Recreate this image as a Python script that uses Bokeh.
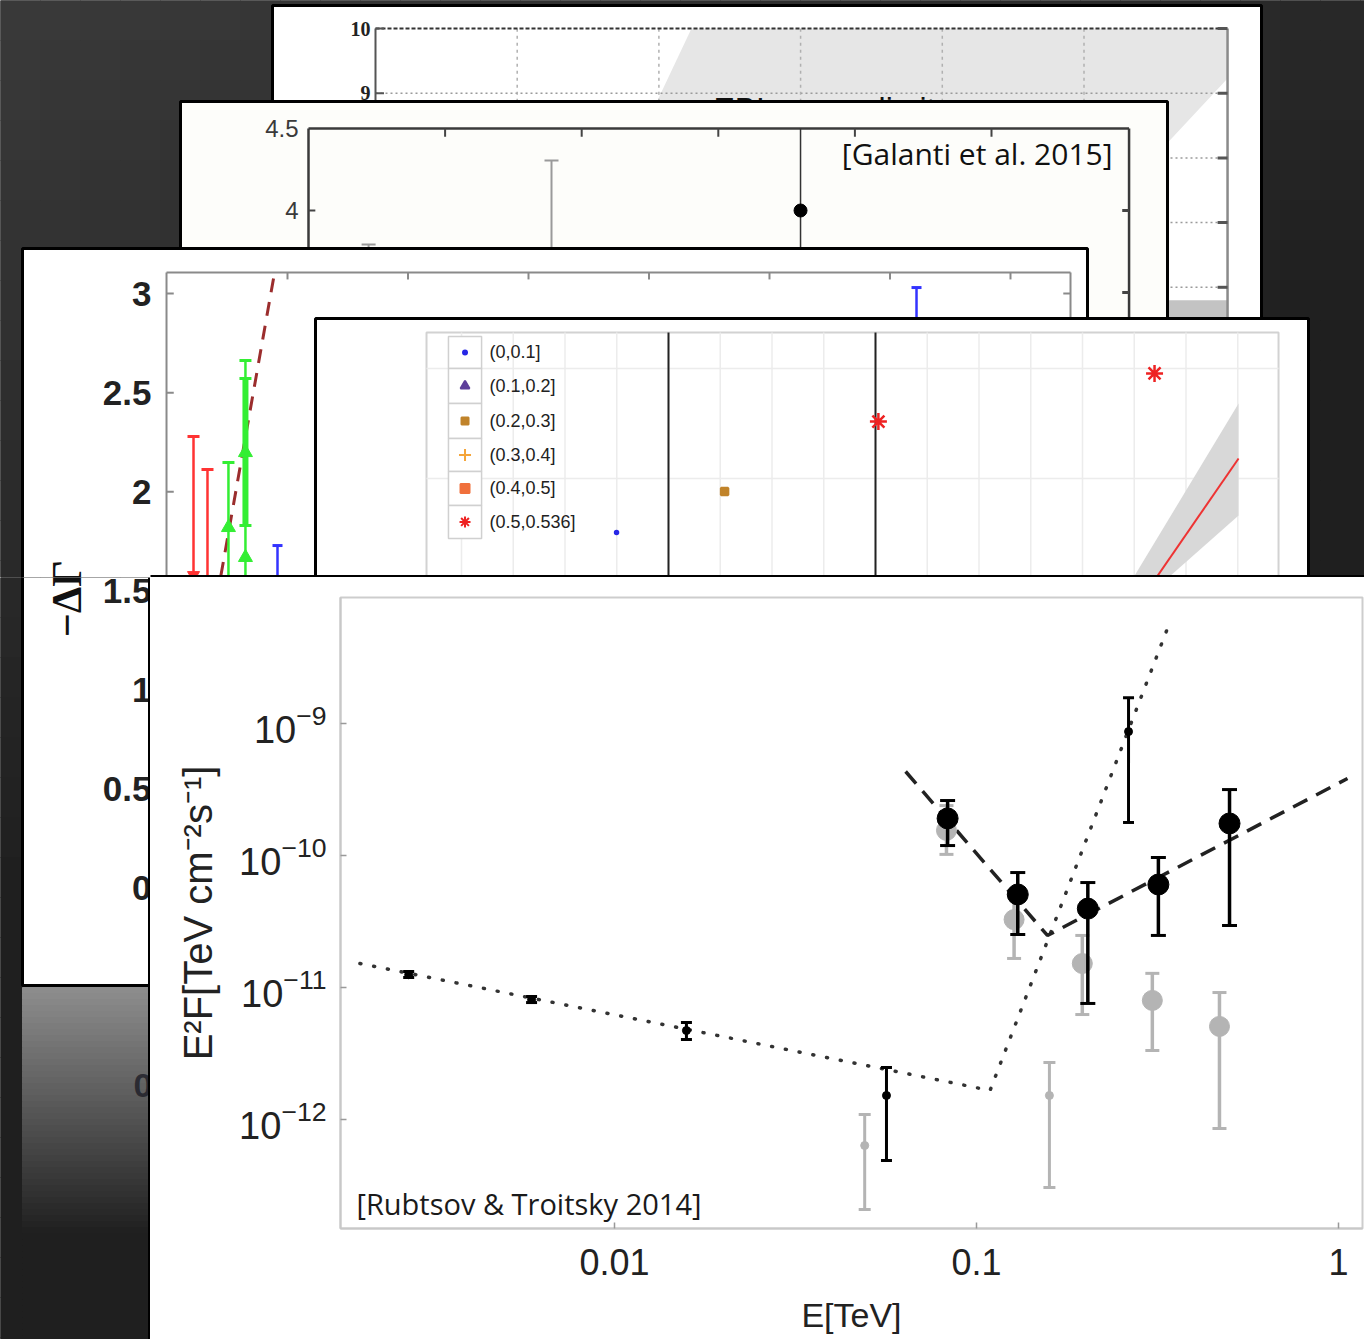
import numpy as np
from bokeh.plotting import figure
from bokeh.models import Range1d, FixedTicker, CustomJSTickFormatter, Plot
from bokeh.layouts import column, row
from bokeh.embed import file_html
from bokeh.resources import INLINE
from bokeh.core.properties import value

# ===================== FRONT CHART DATA  [Rubtsov & Troitsky 2014] =====================
x_ticks = [0.01, 0.1, 1]
y_ticks = [1e-12, 1e-11, 1e-10, 1e-9]

small_E = [0.00270, 0.00590, 0.0158, 0.0564, 0.263]
small_F = [1.25e-11, 8.11e-12, 4.72e-12, 1.52e-12, 8.69e-10]
small_hi = [1.32e-11, 8.55e-12, 5.43e-12, 2.48e-12, 1.57e-9]
small_lo = [1.19e-11, 7.69e-12, 4.04e-12, 4.89e-13, 1.78e-10]

big_E = [0.0832, 0.130, 0.203, 0.318, 0.500]
big_F = [1.91e-10, 5.07e-11, 3.96e-11, 6.03e-11, 1.75e-10]
big_hi = [2.61e-10, 7.43e-11, 6.24e-11, 9.66e-11, 3.16e-10]
big_lo = [1.19e-10, 2.52e-11, 7.57e-12, 2.48e-11, 2.95e-11]

gbig_E = [0.0826, 0.127, 0.196, 0.306, 0.469]
gbig_F = [1.55e-10, 3.27e-11, 1.52e-11, 7.98e-12, 5.07e-12]
gbig_hi = [2.39e-10, 4.98e-11, 2.48e-11, 1.28e-11, 9.16e-12]
gbig_lo = [1.02e-10, 1.66e-11, 6.24e-12, 3.33e-12, 8.55e-13]

gsmall_E = [0.0491, 0.159]
gsmall_F = [6.35e-13, 1.52e-12]
gsmall_hi = [1.09e-12, 2.70e-12]
gsmall_lo = [2.08e-13, 3.05e-13]

dash_E = [0.0637, 0.157, 1.059]
dash_F = [4.33e-10, 2.48e-11, 3.83e-10]
dot_E = [0.00198, 0.109, 0.341]
dot_F = [1.52e-11, 1.66e-12, 5.73e-9]

# ===================== BACKGROUND PANEL DATA =====================
# EBL panel
ebl_yticks = [10, 9, 8, 7, 6]
ebl_ylabels = ["10", "9"]
ebl_xgrid = [1, 2, 3, 4, 5]
ebl_xmax = 6.013
ebl_band_x = [2.230, 6.013, 6.013, 4.157, 1.122]
ebl_band_y = [10.0, 10.0, 9.227, 4.869, 4.869]

# Galanti et al. 2015 panel
gal_xticks = [1, 2, 3, 4, 5]
gal_xmax = 6.007
gal_yticks = [4.5, 4.0]
gal_ylabels = ["4.5", "4"]
gal_err_x = [0.44, 1.779]
gal_err_top = [3.793, 4.305]
gal_pt_x = [3.602]
gal_pt_y = [4.0]

# -DeltaGamma panel
dg_yticks = [3, 2.5, 2, 1.5, 1, 0.5, 0]
dg_ylabels = ["3", "2.5", "2", "1.5", "1", "0.5", "0"]
dg_xticks = [0, 1, 2, 3, 4, 5, 6]
dg_xmin, dg_xmax, dg_ytop = -1.004, 6.498, 3.106
red_x = [-0.78, -0.664]
red_top = [2.279, 2.112]
red_mark_x = [-0.78]
red_mark_y = [1.58]
green_x = [-0.49, -0.349]
green_top = [2.148, 2.662]
green_cap_x = [-0.49, -0.349, -0.349, -0.349]
green_cap_y = [2.148, 2.662, 2.571, 1.83]
green_thick = [2.571, 1.83]
green_mark_x = [-0.49, -0.349, -0.349]
green_mark_y = [1.82, 2.198, 1.669]
blue_x = [-0.083, 5.22]
blue_top = [1.729, 3.03]
blue_bot = [1.0, 2.5]
dg_dash_x = [-0.116, -0.721]
dg_dash_y = [3.076, 1.0]

# redshift-bin legend panel
lp_labels = ["(0,0.1]", "(0.1,0.2]", "(0.2,0.3]", "(0.3,0.4]", "(0.4,0.5]", "(0.5,0.536]"]
lp_colors = ["#2727e6", "#5e3f9b", "#c0832a", "#f5a53a", "#f0703c", "#ee2222"]
lp_markers = ["circle", "triangle", "square", "cross", "square_x", "asterisk"]
lp_sizes = [4, 9, 7, 12, 9, 11]
lp_pts_x = [2.348, 1.014, 0.271, -0.251]
lp_pts_y = [0.955, 0.518, -0.118, -0.491]
lp_pts_c = ["#ee2222", "#ee2222", "#c0832a", "#2727e6"]
lp_pts_m = ["asterisk", "asterisk", "square", "circle"]
lp_pts_s = [17, 17, 7, 3]
lp_band_x = [2.150, 2.754, 2.754, 2.235]
lp_band_y = [-1.2, 0.682, -0.336, -1.2]
lp_fit_x = [2.247, 2.754]
lp_fit_y = [-1.2, 0.182]

SANS = value("Liberation Sans")
SERIF = value("Liberation Serif")

# page-to-data mapping of every background panel: page_x = ox + sx*x ; page_y = oy - sy*y
PANELS = {"ebl": (375, 141.7, 675, 64.7), "gal": (308, 136.6, 866, 164.0),
          "dg": (287, 120.5, 887.9, 198.3), "lp": (668, 207.0, 478, 110.0)}

HAS_FRAME_ALIGN = "frame_align" in Plot.properties()


def set_panel_ranges(fig, names, fx, fy):
    xr, yr = {}, {}
    for n in names:
        ox, sx, oy, sy = PANELS[n]
        xr[n] = Range1d((fx[0] - ox) / sx, (fx[1] - ox) / sx)
        yr[n] = Range1d((oy - fy[1]) / sy, (oy - fy[0]) / sy)
    fig.extra_x_ranges = xr
    fig.extra_y_ranges = yr


def gray_hex(l):
    v = int(round(min(255, max(0, l))))
    return "#%02x%02x%02x" % (v, v, v)


def bg_lum(px, py):
    return max(31.0, 58.0 - 0.013 * px - 0.03 * py)


def draw_background(fig, x0, x1, y0, y1, cell=40):
    L, R, T, B, C = [], [], [], [], []
    for ys in np.arange(y0, y1, cell):
        for xs in np.arange(x0, x1, cell):
            xe, ye = min(xs + cell, x1), min(ys + cell, y1)
            L.append(xs); R.append(xe); T.append(ys); B.append(ye)
            C.append(gray_hex(bg_lum((xs + xe) / 2, (ys + ye) / 2)))
    fig.quad(left=L, right=R, top=T, bottom=B, fill_color=C, line_color=C, line_width=1)


def panel_rect(fig, l, r, t, b, fill="white", lw=3):
    fig.quad(left=[l], right=[r], top=[t], bottom=[b], fill_color=fill,
             line_color="black", line_width=lw)


def seg(fig, rn, x0, y0, x1, y1, **kw):
    fig.segment(x0=x0, y0=y0, x1=x1, y1=y1, x_range_name=rn, y_range_name=rn, **kw)


def txt(fig, rn, x, y, t, **kw):
    fig.text(x=x, y=y, text=t, x_range_name=rn, y_range_name=rn, **kw)


def draw_dg_labels(fig):
    n = len(dg_yticks)
    txt(fig, "dg", [-1.129] * n, dg_yticks, dg_ylabels, text_font=SANS, text_font_size="35px",
        text_font_style="bold", text_color="#222222", text_align="right", text_baseline="middle")
    txt(fig, "dg", [-1.834], [1.462], ["\u2212\u0394\u0393"], text_font=SERIF, text_font_size="42px",
        text_font_style="bold", text_color="#111111", text_align="center", text_baseline="middle",
        angle=np.pi / 2)


# ===================== TOP FIGURE (background panels) =====================
top = figure(width=1364, height=577, x_range=Range1d(0, 1364), y_range=Range1d(577, 0),
             x_axis_type=None, y_axis_type=None, output_backend="svg",
             toolbar_location=None, min_border=0)
top.outline_line_color = None
top.background_fill_color = "#2a2a2a"
top.border_fill_color = "#2a2a2a"
set_panel_ranges(top, ["ebl", "gal", "dg", "lp"], (0, 1364), (0, 577))
draw_background(top, 0, 1364, 0, 577)

# --- EBL panel ---
panel_rect(top, 272, 1261, 5, 340)
top.patch(ebl_band_x, ebl_band_y, fill_color="#e6e6e6", line_color=None,
          x_range_name="ebl", y_range_name="ebl")
top.quad(left=[5.2], right=[ebl_xmax], top=[5.80], bottom=[4.0], fill_color="#c3c3c3",
         line_color=None, x_range_name="ebl", y_range_name="ebl")
seg(top, "ebl", [0] * 4, ebl_yticks[1:], [ebl_xmax] * 4, ebl_yticks[1:],
    line_color="#9a9a9a", line_width=1.5, line_dash="2 3")
seg(top, "ebl", ebl_xgrid, [4.0] * 5, ebl_xgrid, [10] * 5,
    line_color="#b0b0b0", line_width=1.5, line_dash="3 4")
seg(top, "ebl", [0], [10], [ebl_xmax], [10], line_color="#333333", line_width=2, line_dash="4 2")
seg(top, "ebl", [0], [4.0], [0], [10], line_color="#555555", line_width=2)
seg(top, "ebl", [ebl_xmax], [4.0], [ebl_xmax], [10], line_color="#8a8a8a", line_width=2.5)
seg(top, "ebl", [ebl_xmax - 0.07] * 5, ebl_yticks, [ebl_xmax] * 5, ebl_yticks,
    line_color="#555555", line_width=3)
seg(top, "ebl", [0, 0], [10, 9], [0.06, 0.06], [10, 9], line_color="#555555", line_width=2)
txt(top, "ebl", [-0.035, -0.035], [10, 9], ebl_ylabels, text_font=SERIF, text_font_size="20px",
    text_font_style="bold", text_color="#222222", text_align="right", text_baseline="middle")
txt(top, "ebl", [2.385, 3.55], [9.03, 9.03], ["EBL", "limit"], text_font=SANS,
    text_font_size="32px", text_color="#111111", text_align="left", text_baseline="top")

# --- Galanti et al. 2015 panel ---
panel_rect(top, 180, 1167, 101, 400, fill="#fdfdfa", lw=3)
seg(top, "gal", [0, 0, gal_xmax], [2.5, 4.5, 2.5], [0, gal_xmax, gal_xmax], [4.5, 4.5, 4.5],
    line_color="#3a3a3a", line_width=2.5)
seg(top, "gal", gal_xticks, [4.5] * 5, gal_xticks, [4.45] * 5, line_color="#444444", line_width=2)
seg(top, "gal", [0], [4.0], [0.05], [4.0], line_color="#444444", line_width=2)
seg(top, "gal", [gal_xmax - 0.05] * 2, [4.0, 3.5], [gal_xmax] * 2, [4.0, 3.5],
    line_color="#444444", line_width=3)
txt(top, "gal", [-0.073, -0.073], gal_yticks, gal_ylabels, text_font=SANS, text_font_size="24px",
    text_color="#3a3a3a", text_align="right", text_baseline="middle")
seg(top, "gal", gal_err_x, gal_err_top, gal_err_x, [2.5, 2.5], line_color="#9a9a9a", line_width=2)
top.scatter(gal_err_x, gal_err_top, marker="dash", size=14, line_color="#9a9a9a", line_width=2,
            x_range_name="gal", y_range_name="gal")
seg(top, "gal", gal_pt_x, [4.5], gal_pt_x, [2.5], line_color="#333333", line_width=1.5)
top.scatter(gal_pt_x, gal_pt_y, marker="circle", size=13, fill_color="black", line_color="black",
            x_range_name="gal", y_range_name="gal")
txt(top, "gal", [5.886], [4.348], ["[Galanti et al. 2015]"], text_font=value("Open Sans"),
    text_font_size="30px", text_color="#111111", text_align="right", text_baseline="middle")

# --- -DeltaGamma panel ---
panel_rect(top, 22, 1087, 248, 985, lw=3)
seg(top, "dg", [dg_xmin, dg_xmin, dg_xmax], [-0.5, dg_ytop, 2.0],
    [dg_xmin, dg_xmax, dg_xmax], [dg_ytop, dg_ytop, dg_ytop], line_color="#8a8a8a", line_width=2)
seg(top, "dg", dg_xticks, [dg_ytop] * 7, dg_xticks, [dg_ytop - 0.035] * 7,
    line_color="#8a8a8a", line_width=2)
seg(top, "dg", [dg_xmin] * 7, dg_yticks, [dg_xmin + 0.06] * 7, dg_yticks,
    line_color="#8a8a8a", line_width=2)
seg(top, "dg", [dg_xmax - 0.06], [3], [dg_xmax], [3], line_color="#8a8a8a", line_width=2)
draw_dg_labels(top)
top.line(dg_dash_x, dg_dash_y, line_color="#9b2d2d", line_width=3, line_dash="14 10",
         x_range_name="dg", y_range_name="dg")
seg(top, "dg", red_x, red_top, red_x, [1.0, 1.0], line_color="#ff3333", line_width=2.5)
top.scatter(red_x, red_top, marker="dash", size=12, line_color="#ff3333", line_width=3,
            x_range_name="dg", y_range_name="dg")
top.scatter(red_mark_x, red_mark_y, marker="inverted_triangle", size=12, fill_color="#ff3333",
            line_color="#ff3333", x_range_name="dg", y_range_name="dg")
seg(top, "dg", green_x, green_top, green_x, [1.0, 1.0], line_color="#33ee33", line_width=2.5)
seg(top, "dg", [-0.349], [green_thick[0]], [-0.349], [green_thick[1]], line_color="#33ee33",
    line_width=6)
top.scatter(green_cap_x, green_cap_y, marker="dash", size=12, line_color="#33ee33", line_width=3,
            x_range_name="dg", y_range_name="dg")
top.scatter(green_mark_x, green_mark_y, marker="triangle", size=14, fill_color="#33ee33",
            line_color="#33ee33", x_range_name="dg", y_range_name="dg")
seg(top, "dg", blue_x, blue_top, blue_x, blue_bot, line_color="#3333ff", line_width=2.5)
top.scatter(blue_x, blue_top, marker="dash", size=10, line_color="#3333ff", line_width=3,
            x_range_name="dg", y_range_name="dg")

# --- redshift-bin legend panel ---
panel_rect(top, 315, 1308, 318, 700, lw=3)
top.quad(left=[-1.169], right=[2.947], top=[1.327], bottom=[-2.0], fill_color="white",
         line_color="#d2d2d2", line_width=2, x_range_name="lp", y_range_name="lp")
gx = [k / 4 for k in range(-4, 12)]
seg(top, "lp", gx, [-2.0] * len(gx), gx, [1.327] * len(gx), line_color="#ececec", line_width=1.5)
seg(top, "lp", [-1.169, -1.169], [1.0, 0.0], [2.947, 2.947], [1.0, 0.0], line_color="#ececec",
    line_width=1.5)
top.patch(lp_band_x, lp_band_y, fill_color="#d8d8d8", line_color=None,
          x_range_name="lp", y_range_name="lp")
top.line(lp_fit_x, lp_fit_y, line_color="#ee3333", line_width=2, x_range_name="lp",
         y_range_name="lp")
seg(top, "lp", [0, 1], [-2.0, -2.0], [0, 1], [1.327, 1.327], line_color="#222222", line_width=2)
cell_edges = [1.291, 1.0, 0.682, 0.364, 0.064, -0.245, -0.545]
top.quad(left=[-1.063] * 6, right=[-0.903] * 6, top=cell_edges[:-1], bottom=cell_edges[1:],
         fill_color="white", line_color="#d0d0d0", line_width=1.5,
         x_range_name="lp", y_range_name="lp")
row_y = [(cell_edges[i] + cell_edges[i + 1]) / 2 for i in range(6)]
for i in range(6):
    top.scatter([-0.983], [row_y[i]], marker=lp_markers[i], size=lp_sizes[i],
                fill_color=lp_colors[i], line_color=lp_colors[i], line_width=2,
                x_range_name="lp", y_range_name="lp")
txt(top, "lp", [-0.865] * 6, row_y, lp_labels, text_font=SANS, text_font_size="18px",
    text_color="#222222", text_align="left", text_baseline="middle")
for i in range(4):
    top.scatter([lp_pts_x[i]], [lp_pts_y[i]], marker=lp_pts_m[i], size=lp_pts_s[i],
                fill_color=lp_pts_c[i], line_color=lp_pts_c[i], line_width=2.5,
                x_range_name="lp", y_range_name="lp")

# top edge of the front panel
top.segment(x0=[150], y0=[576], x1=[1364], y1=[576], line_color="black", line_width=3)

# ===================== LEFT FIGURE (strip left of the front panel) =====================
LEFT_FRAME = (577, 1339) if HAS_FRAME_ALIGN else (597, 1228)
left = figure(width=150, height=762, x_range=Range1d(0, 150),
              y_range=Range1d(LEFT_FRAME[1], LEFT_FRAME[0]),
              x_axis_type=None, y_axis_type=None, output_backend="svg",
              toolbar_location=None, min_border=0)
if HAS_FRAME_ALIGN:
    left.frame_align = False
else:
    left.min_border_top = 20
    left.min_border_bottom = 111
left.outline_line_color = None
left.background_fill_color = "#222222"
left.border_fill_color = "#222222"
set_panel_ranges(left, ["dg"], (0, 150), LEFT_FRAME)
draw_background(left, 0, 150, 577, 1339)
panel_rect(left, 22, 1087, 248, 985, lw=3)
# reflection below the panel
rl, rr, rt, rb, rc = [], [], [], [], []
for ys in np.arange(987, 1339, 6):
    rl.append(22); rr.append(150); rt.append(ys); rb.append(min(ys + 6, 1339))
    rc.append(gray_hex(max(bg_lum(80, ys), 140 - 0.45 * (ys - 988))))
left.quad(left=rl, right=rr, top=rt, bottom=rb, fill_color=rc, line_color=rc, line_width=1)
left.text(x=[152], y=[1085], text=["0"], text_font=SANS, text_font_size="34px",
          text_font_style="bold", text_color="#1c1c26", text_alpha=0.8,
          text_align="right", text_baseline="middle")
draw_dg_labels(left)
left.segment(x0=[149], y0=[577], x1=[149], y1=[1339], line_color="black", line_width=3)

# ===================== MAIN (front) FIGURE =====================
main = figure(width=1214, height=762, x_axis_type="log", y_axis_type="log",
              x_range=Range1d(10 ** -2.757, 10 ** 0.0663),
              y_range=Range1d(10 ** -12.826, 10 ** -8.045),
              output_backend="svg", toolbar_location=None,
              min_border_left=190, min_border_right=2, min_border_top=20, min_border_bottom=111)
if HAS_FRAME_ALIGN:
    main.frame_align = False
main.background_fill_color = "white"
main.border_fill_color = "white"
main.outline_line_color = "#cdcdcd"
main.outline_line_width = 2
main.xgrid.visible = False
main.ygrid.visible = False
main.xaxis.ticker = FixedTicker(ticks=x_ticks)
main.xaxis.formatter = CustomJSTickFormatter(code="return Number(tick.toPrecision(3)).toString();")
main.yaxis.ticker = FixedTicker(ticks=y_ticks)
for ax in (main.xaxis[0], main.yaxis[0]):
    ax.axis_line_color = "#c8c8c8"
    ax.axis_line_width = 2
    ax.major_tick_line_color = "#999999"
    ax.major_tick_line_width = 1.5
    ax.major_tick_in = 6
    ax.major_tick_out = 0
    ax.minor_tick_line_color = None
    ax.major_label_text_font = "Liberation Sans"
    ax.major_label_text_color = "#222222"
    ax.axis_label_text_font = "Liberation Sans"
    ax.axis_label_text_font_style = "normal"
    ax.axis_label_text_color = "#222222"
main.xaxis.major_label_text_font_size = "36px"
main.yaxis.major_label_text_font_size = "38px"
main.xaxis.axis_label_text_font_size = "34px"
main.yaxis.axis_label_text_font_size = "40px"
main.xaxis.axis_label = "E[TeV]"
main.yaxis.axis_label = "E\u00b2F[TeV cm\u207b\u00b2s\u207b\u00b9]"
main.xaxis.major_label_standoff = 20
main.xaxis.axis_label_standoff = 18
main.yaxis.major_label_standoff = 14
main.yaxis.axis_label_standoff = 16

GRAY = "#b4b4b4"
main.line(dot_E, dot_F, line_color="#333333", line_width=3.5, line_dash="1 13", line_cap="round")
main.line(dash_E, dash_F, line_color="#222222", line_width=3.5, line_dash="16 10")
# gray points
main.segment(x0=gsmall_E, y0=gsmall_lo, x1=gsmall_E, y1=gsmall_hi, line_color=GRAY, line_width=3)
main.scatter(gsmall_E + gsmall_E, gsmall_lo + gsmall_hi, marker="dash", size=12,
             line_color=GRAY, line_width=3)
main.scatter(gsmall_E, gsmall_F, marker="circle", size=8, fill_color=GRAY, line_color=GRAY)
main.segment(x0=gbig_E, y0=gbig_lo, x1=gbig_E, y1=gbig_hi, line_color=GRAY, line_width=3.5)
main.scatter(gbig_E + gbig_E, gbig_lo + gbig_hi, marker="dash", size=14,
             line_color=GRAY, line_width=3)
main.scatter(gbig_E, gbig_F, marker="circle", size=20, fill_color=GRAY, line_color=GRAY)
# black points
main.segment(x0=small_E, y0=small_lo, x1=small_E, y1=small_hi, line_color="black", line_width=3)
main.scatter(small_E + small_E, small_lo + small_hi, marker="dash", size=11,
             line_color="black", line_width=3)
main.scatter(small_E, small_F, marker="circle", size=8, fill_color="black", line_color="black")
main.segment(x0=big_E, y0=big_lo, x1=big_E, y1=big_hi, line_color="black", line_width=3.5)
main.scatter(big_E + big_E, big_lo + big_hi, marker="dash", size=15,
             line_color="black", line_width=3)
main.scatter(big_E, big_F, marker="circle", size=21, fill_color="black", line_color="black")
main.text(x=[0.001936], y=[2.31e-13], text=["[Rubtsov & Troitsky 2014]"],
          text_font=value("Open Sans"), text_font_size="29px", text_color="#1a1a1a",
          text_align="left", text_baseline="middle")

layout = column(top, row(left, main, spacing=0), spacing=0)
html = file_html(layout, INLINE, title="E2F spectrum collage")
html = html.replace("<body>", '<body style="background-color:#2a2a2a;">', 1)
open("out.html", "w").write(html)
